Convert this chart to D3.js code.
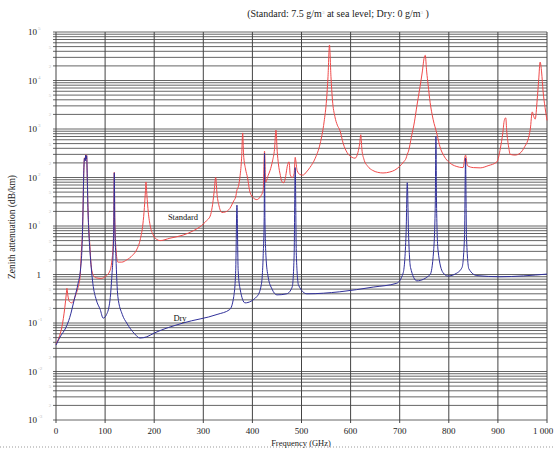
<!DOCTYPE html>
<html>
<head>
<meta charset="utf-8">
<script src="https://cdn.jsdelivr.net/npm/d3@7"></script>
<style>
  body { margin: 0; background: #fff; }
  text { font-family: "Liberation Serif", "DejaVu Serif", serif; }
</style>
</head>
<body>
<div id="chart"></div>
<script>
// Dry air curve (oxygen lines)
var dryFreq = [0, 8, 20, 28, 38, 45, 50, 53, 55, 56.5, 58, 59.5, 60.5, 61.5, 62.5, 63.5, 65, 67, 69, 72, 75, 82, 90, 96, 103, 110, 114, 116, 117.8, 118.75, 119.7, 122, 126, 135, 144, 160, 171, 185, 200, 259, 328, 354, 362, 366, 368.5, 371, 375, 385, 409, 418, 422, 424, 424.7, 425.5, 427.5, 432, 440, 450, 470, 481, 485, 487.2, 489.5, 494, 511, 578, 646, 694, 707, 713, 715.4, 718, 722, 735, 762, 769, 772.5, 773.8, 775, 778, 788, 798, 815, 827, 832, 834.1, 836, 841, 857, 904, 1000];
var dryAtten = [0.035, 0.051, 0.08, 0.13, 0.33, 0.66, 1.3, 3.7, 20, 120, 250, 220, 290, 240, 280, 120, 24, 7, 3.2, 1.3, 0.66, 0.3, 0.19, 0.126, 0.15, 0.3, 1, 2.3, 12, 125, 12, 2.3, 0.35, 0.15, 0.1, 0.06, 0.049, 0.052, 0.062, 0.1, 0.15, 0.19, 0.35, 1.2, 27, 1.2, 0.5, 0.26, 0.35, 0.6, 2.5, 15, 316, 15, 2.5, 0.9, 0.5, 0.38, 0.4, 0.55, 2.5, 160, 2.5, 0.6, 0.4, 0.44, 0.55, 0.66, 1.07, 7, 78, 7, 1.4, 0.74, 1.0, 3, 30, 700, 30, 3.2, 1.1, 0.93, 1.05, 1.4, 6, 250, 6, 1.3, 0.95, 0.9, 1.02];

// Standard atmosphere curve (7.5 g/m3 water vapour)
var stdFreq = [0, 6, 12, 18, 21, 22.2, 24, 27, 32, 39, 45, 49, 52, 54, 55, 56.5, 58, 59.5, 60.5, 61.5, 62.5, 63.5, 65, 67, 69, 71, 73, 78, 83, 92, 100, 110, 114, 116, 117.8, 118.75, 119.7, 122, 126, 134, 144, 156, 164, 172, 177, 180, 182, 183.3, 185, 188, 192, 198, 205, 212, 232, 259, 280, 293, 307, 314, 318, 322, 325.2, 328, 332, 338, 345, 354, 362, 366, 368.5, 371, 375, 378, 380.2, 382, 386, 390, 395, 402, 409, 416, 422, 424.7, 427, 432, 436, 441, 445, 448, 450.5, 453, 457, 460, 464, 468, 471, 474.7, 477, 481, 485, 487.2, 488.5, 491, 497, 503, 510, 517, 528, 538, 546, 551, 554, 557, 560, 563, 568, 573, 578, 585, 593, 603, 609, 615, 618.5, 620.7, 623, 627, 635, 645, 655, 666, 680, 690, 700, 708, 713, 715.4, 718, 724, 730, 735, 741, 746, 750, 752, 755, 758, 762, 766, 770, 773.8, 777, 782, 790, 802, 815, 829, 834.1, 838, 850, 864, 880, 898, 905, 910, 913, 916, 918, 922, 925, 935, 945, 955, 961, 966, 970, 973, 976, 980, 983, 986, 989, 992, 996, 1000];
var stdAtten = [0.037, 0.05, 0.083, 0.21, 0.4, 0.52, 0.38, 0.28, 0.26, 0.35, 0.55, 0.9, 3.5, 8, 22, 125, 255, 225, 295, 245, 285, 125, 26, 8, 4, 1.8, 1.2, 0.9, 0.85, 0.83, 0.9, 1.2, 2, 3.5, 15, 128, 15, 3.5, 1.8, 1.8, 2.0, 2.5, 3.2, 5.5, 11, 24, 50, 81, 45, 19, 10, 6.5, 5.3, 5, 5.6, 6.5, 8, 9.6, 13, 16, 24, 50, 100, 45, 26, 19, 19.5, 23, 33, 40, 55, 63, 110, 250, 830, 300, 150, 100, 50, 38, 35, 40, 55, 350, 80, 110, 140, 220, 380, 950, 350, 190, 110, 82, 78, 110, 170, 210, 115, 100, 120, 260, 220, 140, 115, 112, 130, 160, 250, 500, 1400, 4000, 12000, 54000, 12000, 4000, 1800, 1200, 950, 500, 325, 260, 250, 330, 500, 760, 380, 240, 170, 140, 128, 124, 130, 142, 170, 210, 250, 300, 350, 700, 1400, 3000, 7000, 15000, 30000, 33000, 15000, 8000, 3500, 2000, 1300, 950, 700, 430, 280, 200, 170, 160, 290, 175, 160, 158, 175, 210, 400, 830, 1500, 1700, 900, 420, 300, 290, 316, 440, 590, 1000, 2250, 1800, 1600, 4000, 10000, 24000, 15000, 6000, 2800, 1500];

var xTicks = [0, 100, 200, 300, 400, 500, 600, 700, 800, 900, 1000];
var xTickLabels = ["0", "100", "200", "300", "400", "500", "600", "700", "800", "900", "1 000"];
var yExponents = [5, 4, 3, 2, 1, 0, -1, -2, -3];

function renderChart() {
    var width = 555, height = 450;
    var plotLeft = 56, plotRight = 547, plotTop = 32, plotBottom = 420;

    var svg = d3.select("#chart").append("svg")
        .attr("width", width)
        .attr("height", height);

    var x = d3.scaleLinear().domain([0, 1000]).range([plotLeft, plotRight]);
    var y = d3.scaleLog().domain([1e-3, 1e5]).range([plotBottom, plotTop]);

    //Horizontal grid lines at every minor step
    var gridVals = [];
    for (var k = -3; k < 5; k++) {
        for (var m = 1; m < 10; m++) gridVals.push(m * Math.pow(10, k));
    }
    gridVals.push(1e5);

    var grid = svg.append("g").attr("class", "grid");
    grid.selectAll(".hgrid")
        .data(gridVals)
        .enter().append("line")
        .attr("x1", plotLeft - 3)
        .attr("x2", plotRight)
        .attr("y1", function (d) { return y(d); })
        .attr("y2", function (d) { return y(d); })
        .attr("stroke", "#555")
        .attr("stroke-width", 0.9);

    grid.selectAll(".vgrid")
        .data(xTicks)
        .enter().append("line")
        .attr("x1", function (d) { return x(d); })
        .attr("x2", function (d) { return x(d); })
        .attr("y1", plotTop)
        .attr("y2", plotBottom + 3)
        .attr("stroke", "#444")
        .attr("stroke-width", 1);

    //Y axis labels 10^n
    var yl = svg.append("g").attr("class", "ylabels");
    yExponents.forEach(function (e) {
        yl.append("text")
            .attr("x", e === 0 ? 41 : 37)
            .attr("y", y(Math.pow(10, e)) + 3)
            .attr("text-anchor", "end")
            .attr("font-size", 9)
            .attr("fill", "#222")
            .text(e === 0 ? "1" : "10");
        if (e !== 0) {
            yl.append("text")
                .attr("x", 38)
                .attr("y", y(Math.pow(10, e)) - 2)
                .attr("font-size", 5)
                .attr("fill", "#bbb")
                .text(e);
        }
    });

    //faint minor labels 5 and 2
    var minorLab = [];
    for (var j = -3; j < 5; j++) { minorLab.push([5, 5 * Math.pow(10, j)]); minorLab.push([2, 2 * Math.pow(10, j)]); }
    yl.selectAll(".minor")
        .data(minorLab)
        .enter().append("text")
        .attr("x", 50)
        .attr("y", function (d) { return y(d[1]) + 2; })
        .attr("text-anchor", "middle")
        .attr("font-size", 5)
        .attr("fill", "#c4c4c4")
        .text(function (d) { return d[0]; });

    //X axis labels
    svg.append("g").selectAll("text")
        .data(xTicks)
        .enter().append("text")
        .attr("x", function (d) { return d === 1000 ? x(d) - 4 : x(d); })
        .attr("y", 434)
        .attr("text-anchor", "middle")
        .attr("font-size", 9)
        .attr("fill", "#222")
        .text(function (d, i) { return xTickLabels[i]; });

    //Curves
    var line = d3.line()
        .x(function (d) { return x(d[0]); })
        .y(function (d) { return y(d[1]); })
        .curve(d3.curveMonotoneX);

    svg.append("path")
        .datum(stdFreq.map(function (f, i) { return [f, stdAtten[i]]; }))
        .attr("d", line)
        .attr("fill", "none")
        .attr("stroke", "#f04a4a")
        .attr("stroke-width", 1);

    svg.append("path")
        .datum(dryFreq.map(function (f, i) { return [f, dryAtten[i]]; }))
        .attr("d", line)
        .attr("fill", "none")
        .attr("stroke", "#30309a")
        .attr("stroke-width", 1);

    //Curve names
    svg.append("text").attr("x", 183).attr("y", 220).attr("text-anchor", "middle")
        .attr("font-size", 8.5).attr("fill", "#111").text("Standard");
    svg.append("text").attr("x", 180).attr("y", 321).attr("text-anchor", "middle")
        .attr("font-size", 8.5).attr("fill", "#111").text("Dry");

    //Title
    var title = svg.append("text").attr("x", 338).attr("y", 17).attr("text-anchor", "middle")
        .attr("font-size", 10).attr("fill", "#222");
    title.append("tspan").text("(Standard: 7.5 g/m");
    title.append("tspan").attr("font-size", 5).attr("dy", -3).attr("fill", "#bbb").text("3");
    title.append("tspan").attr("dy", 3).text(" at sea level; Dry: 0 g/m");
    title.append("tspan").attr("font-size", 5).attr("dy", -3).attr("fill", "#bbb").text("3");
    title.append("tspan").attr("dy", 3).text(" )");

    //Axis titles
    svg.append("text")
        .attr("transform", "translate(15,227) rotate(-90)")
        .attr("text-anchor", "middle")
        .attr("font-size", 9.5)
        .attr("fill", "#222")
        .text("Zenith attenuation (dB/km)");

    svg.append("line")
        .attr("x1", 0).attr("x2", width)
        .attr("y1", 447).attr("y2", 447)
        .attr("stroke", "#999")
        .attr("stroke-dasharray", "1,2");

    svg.append("text")
        .attr("x", 301).attr("y", 446)
        .attr("text-anchor", "middle")
        .attr("font-size", 8.5)
        .attr("fill", "#222")
        .text("Frequency (GHz)");
}

renderChart();
</script>
</body>
</html>
